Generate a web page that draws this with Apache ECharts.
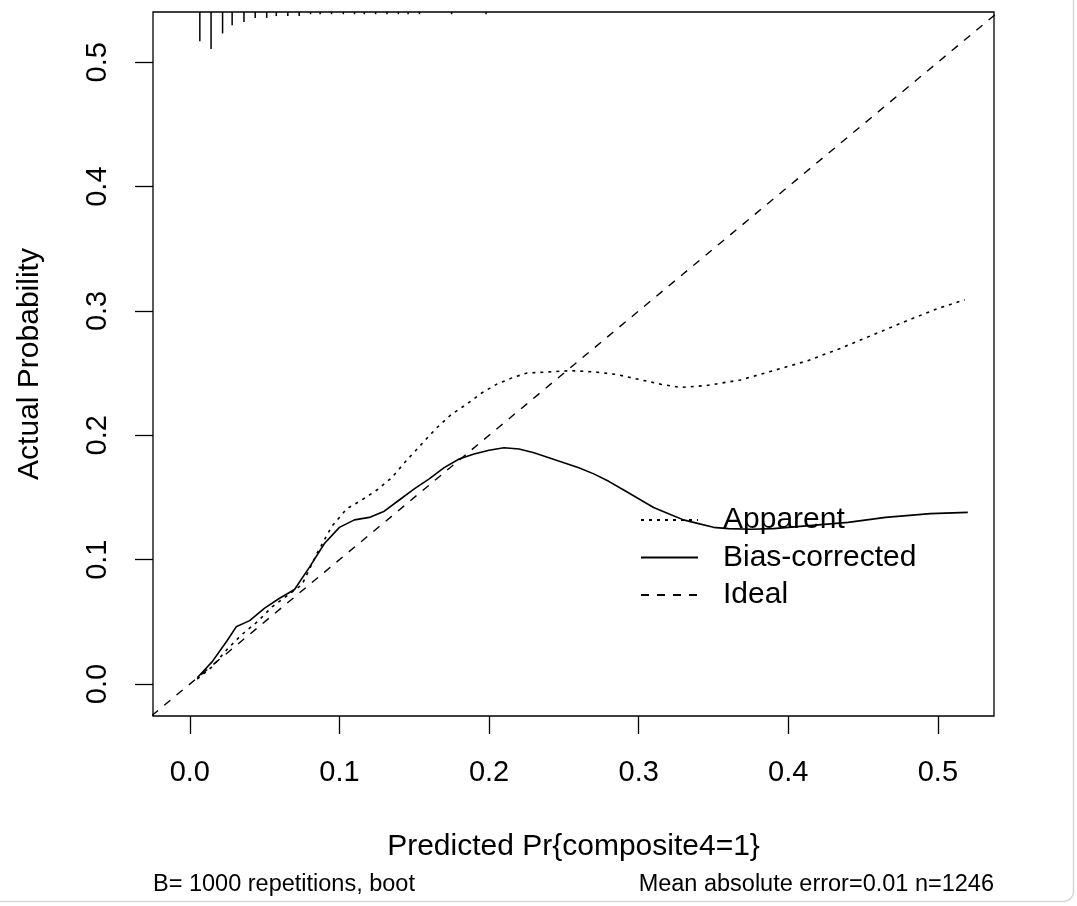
<!DOCTYPE html>
<html>
<head>
<meta charset="utf-8">
<script src="https://cdn.jsdelivr.net/npm/echarts@6/dist/echarts.min.js"></script>
<style>
html,body{margin:0;padding:0;background:#fff;}
#chart{width:1077px;height:906px;}
</style>
</head>
<body>
<div id="chart"></div>
<script>
// ---- data ----
const xTicks = [0.0, 0.1, 0.2, 0.3, 0.4, 0.5];
const yTicks = [0.0, 0.1, 0.2, 0.3, 0.4, 0.5];
const X_MIN = -0.0246, X_MAX = 0.5375;
const Y_MIN = -0.0257, Y_MAX = 0.5404;

const apparent = [
  [0.005,0.004],[0.015,0.014],[0.025,0.028],[0.035,0.040],[0.045,0.050],[0.055,0.062],
  [0.065,0.071],[0.075,0.080],[0.085,0.105],[0.095,0.127],[0.105,0.141],[0.115,0.148],
  [0.125,0.156],[0.135,0.166],[0.145,0.180],[0.155,0.193],[0.165,0.206],[0.175,0.217],
  [0.185,0.225],[0.195,0.234],[0.205,0.241],[0.215,0.246],[0.225,0.250],[0.24,0.251],
  [0.255,0.252],[0.27,0.251],[0.285,0.249],[0.30,0.245],[0.315,0.241],[0.328,0.2385],
  [0.345,0.240],[0.368,0.2445],[0.39,0.252],[0.413,0.260],[0.435,0.270],[0.457,0.281],
  [0.48,0.2925],[0.50,0.302],[0.518,0.309]
];
const biasCorrected = [
  [0.005,0.005],[0.015,0.018],[0.025,0.035],[0.031,0.046],[0.04,0.051],[0.05,0.061],
  [0.06,0.069],[0.07,0.076],[0.08,0.094],[0.09,0.113],[0.10,0.126],[0.11,0.132],
  [0.12,0.134],[0.13,0.139],[0.14,0.148],[0.15,0.157],[0.16,0.165],[0.17,0.174],
  [0.18,0.181],[0.19,0.185],[0.20,0.188],[0.21,0.190],[0.22,0.189],[0.23,0.186],
  [0.24,0.182],[0.25,0.178],[0.26,0.174],[0.27,0.169],[0.28,0.163],[0.29,0.156],
  [0.30,0.149],[0.31,0.142],[0.32,0.137],[0.33,0.132],[0.34,0.129],[0.35,0.126],
  [0.36,0.125],[0.375,0.1245],[0.39,0.125],[0.41,0.127],[0.44,0.130],[0.465,0.134],
  [0.495,0.137],[0.52,0.138]
];
const ideal = [[-0.05,-0.05],[0.6,0.6]];

// rug of predicted values (relative frequency at each position)
const rugX = [0.0067,0.0142,0.0219,0.0283,0.0362,0.0437,0.0514,0.0578,0.0655,0.0731,
  0.0807,0.0871,0.0947,0.1026,0.1101,0.1166,0.1242,0.1318,0.1394,0.1459,0.1535,0.175,0.198];
const rugFreq = [0.79,1.0,0.58,0.36,0.27,0.16,0.16,0.11,0.11,0.11,
  0.06,0.06,0.06,0.06,0.06,0.06,0.06,0.06,0.06,0.06,0.06,0.06,0.06];

const legendNames = ['Apparent','Bias-corrected','Ideal'];
const xTitle = 'Predicted Pr{composite4=1}';
const yTitle = 'Actual Probability';
const noteLeft = 'B= 1000 repetitions, boot';
const noteRight = 'Mean absolute error=0.01 n=1246';

// ---- chart ----
const FONT = 'Liberation Sans, Arial, sans-serif';
const chart = echarts.init(document.getElementById('chart'));
const RUG_PX = 37;

chart.setOption({
  animation: false,
  backgroundColor: '#fff',
  grid: {left:153, right:83, top:12, bottom:190, show:true, borderColor:'#000', borderWidth:1.3, backgroundColor:'transparent'},
  xAxis: {
    type:'value', min:X_MIN, max:X_MAX,
    splitLine:{show:false},
    axisLine:{show:false, onZero:false},
    axisTick:{show:true, length:18, customValues:xTicks, lineStyle:{color:'#000', width:1.3}},
    axisLabel:{customValues:xTicks, formatter:v=>v.toFixed(1), color:'#000', fontSize:29, fontFamily:FONT, margin:42},
    name:xTitle, nameLocation:'middle', nameGap:116,
    nameTextStyle:{color:'#000', fontSize:30, fontFamily:FONT}
  },
  yAxis: {
    type:'value', min:Y_MIN, max:Y_MAX,
    splitLine:{show:false},
    axisLine:{show:false, onZero:false},
    axisTick:{show:true, length:18, customValues:yTicks, lineStyle:{color:'#000', width:1.3}},
    axisLabel:{customValues:yTicks, formatter:v=>v.toFixed(1), color:'#000', fontSize:29, fontFamily:FONT, margin:41, rotate:90},
    name:yTitle, nameLocation:'middle', nameGap:108,
    nameTextStyle:{color:'#000', fontSize:30, fontFamily:FONT}
  },
  legend: {
    orient:'vertical', left:640, top:505, padding:0, itemGap:7.5,
    itemWidth:57, itemHeight:30,
    data:legendNames,
    itemStyle:{color:'rgba(0,0,0,0)', opacity:0, borderWidth:0},
    textStyle:{color:'#000', fontSize:30, fontFamily:FONT, padding:[0,0,0,20]}
  },
  series: [
    {name:'Apparent', type:'line', data:apparent, symbol:'none', smooth:false, clip:true,
     itemStyle:{color:'#000'},
     lineStyle:{color:'#000', width:1.6, type:[3,5]}},
    {name:'Bias-corrected', type:'line', data:biasCorrected, symbol:'none', smooth:false, clip:true,
     itemStyle:{color:'#000'},
     lineStyle:{color:'#000', width:1.6, type:'solid'}},
    {name:'Ideal', type:'line', data:ideal, symbol:'none', clip:true,
     itemStyle:{color:'#000'},
     lineStyle:{color:'#000', width:1.4, type:[8,8]}},
    {name:'rug', type:'custom', data:rugX.map((x,i)=>[x, rugFreq[i]]), clip:false,
     renderItem:(params, api)=>{
       const p = api.coord([api.value(0), Y_MAX]);
       const len = api.value(1) * RUG_PX;
       return {type:'line', shape:{x1:p[0], y1:p[1], x2:p[0], y2:p[1]+len},
               style:{stroke:'#000', lineWidth:1.5}};
     }}
  ],
  graphic: [
    {type:'text', left:153, top:873, style:{text:noteLeft, fill:'#000', fontSize:23.5, fontFamily:FONT}},
    {type:'text', right:83, top:873, style:{text:noteRight, fill:'#000', fontSize:23.5, fontFamily:FONT}},
    {type:'rect', left:-12, top:-12, silent:true, z:-1,
     shape:{width:1083, height:911, r:10},
     style:{fill:'none', stroke:'#d8d8d8', lineWidth:1.5}}
  ]
});
</script>
</body>
</html>
